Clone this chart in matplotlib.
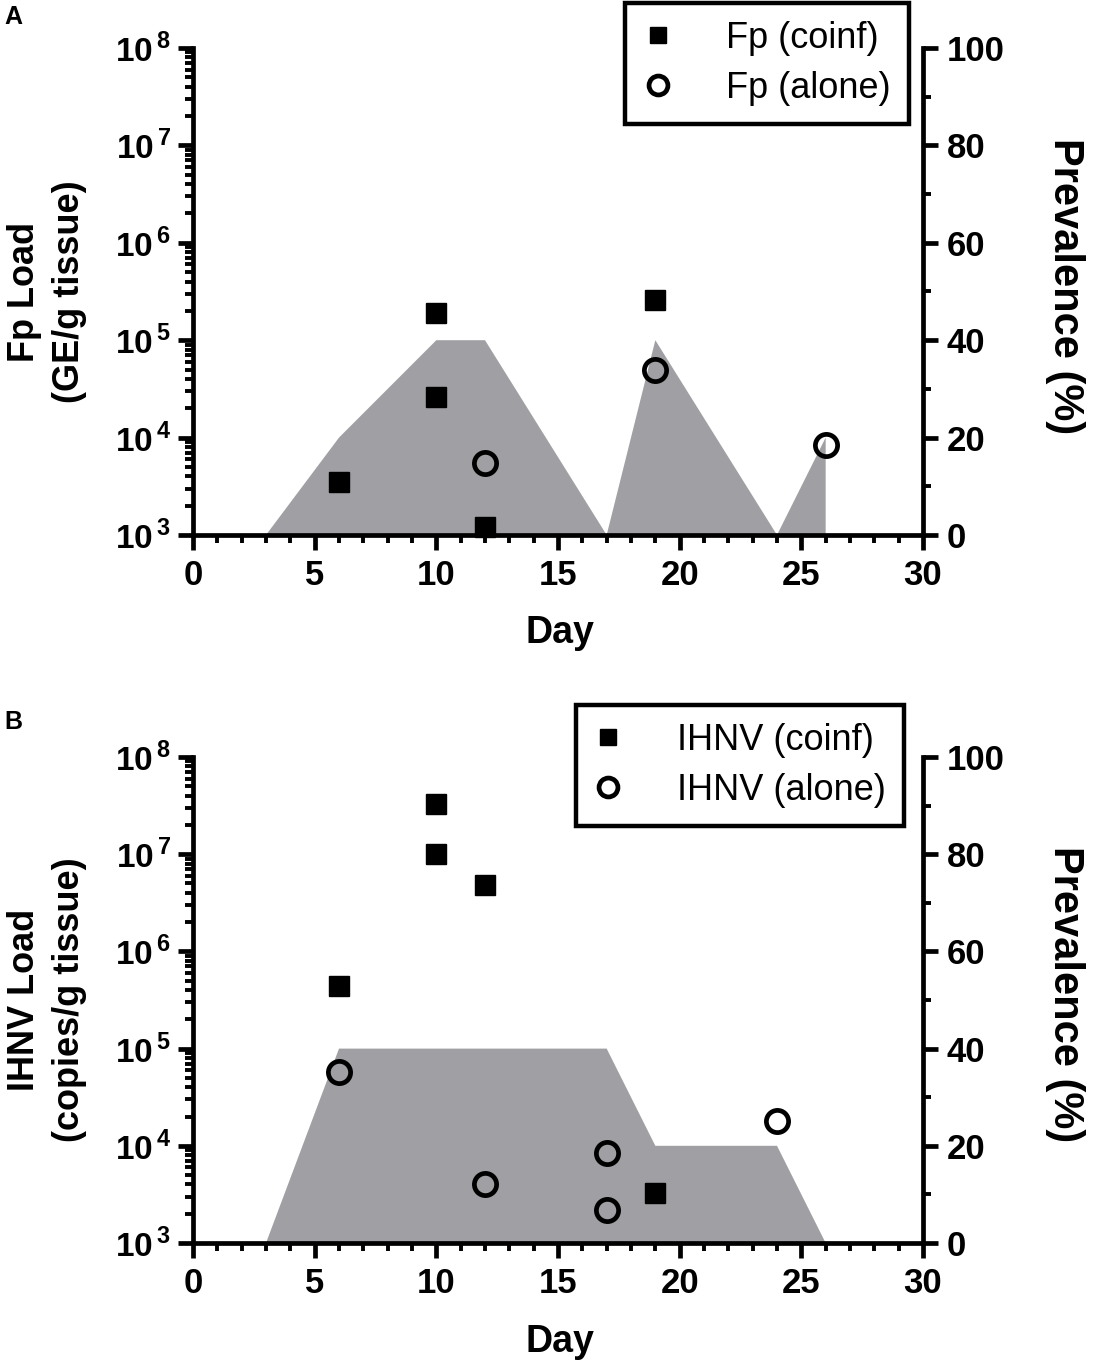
import matplotlib
matplotlib.use('Agg')
import matplotlib.pyplot as plt
from matplotlib.ticker import FixedLocator, FixedFormatter, LogLocator, NullFormatter, MultipleLocator

plt.rcParams['font.family'] = ['Liberation Sans', 'DejaVu Sans']
plt.rcParams['mathtext.fontset'] = 'custom'
plt.rcParams['mathtext.rm'] = 'Liberation Sans'
plt.rcParams['mathtext.bf'] = 'Liberation Sans:bold'

# panel A: Fp
fp_coinf_day = [6, 10, 10, 12, 19]
fp_coinf_load = [3.5e3, 1.9e5, 2.6e4, 1.2e3, 2.6e5]
fp_alone_day = [12, 19, 26]
fp_alone_load = [5.5e3, 5.0e4, 8.3e3]
fp_prev_day = [3, 6, 10, 12, 17, 19, 24, 26, 26]
fp_prev = [0, 20, 40, 40, 0, 40, 0, 20, 0]

# panel B: IHNV
ihnv_coinf_day = [6, 10, 10, 12, 19]
ihnv_coinf_load = [4.4e5, 3.3e7, 1.0e7, 4.8e6, 3.3e3]
ihnv_alone_day = [6, 12, 17, 17, 24]
ihnv_alone_load = [5.7e4, 4.0e3, 8.5e3, 2.2e3, 1.8e4]
ihnv_prev_day = [3, 6, 17, 19, 24, 26]
ihnv_prev = [0, 40, 40, 20, 20, 0]

exponents = [3, 4, 5, 6, 7, 8]
day_ticks = [0, 5, 10, 15, 20, 25, 30]
prev_ticks = [0, 20, 40, 60, 80, 100]

fill_color = '#a0a0a4'
lw = 3.4
W, H = 1096, 1369


def panel(rect, letter, letter_y, c_day, c_load, a_day, a_load, p_day, p_prev,
          ylabel, name, leg_anchor, day_y):
    ax = fig.add_axes(rect)
    ax2 = ax.twinx()
    ax.set_zorder(ax2.get_zorder() + 1)
    ax.patch.set_visible(False)

    ax2.fill(p_day, p_prev, color=fill_color, lw=0)
    ax2.set_ylim(0, 100)
    ax2.yaxis.set_major_locator(FixedLocator(prev_ticks))
    ax2.yaxis.set_minor_locator(MultipleLocator(10))

    ax.plot(c_day, c_load, 's', color='black', ms=14, mec='black', clip_on=False,
            label=f'{name} (coinf)')
    ax.plot(a_day, a_load, 'o', mfc='none', mec='black', mew=3.4, ms=16, clip_on=False,
            label=f'{name} (alone)')

    ax.set_yscale('log')
    ax.set_ylim(1e3, 1e8)
    ax.set_xlim(0, 30)
    ax.yaxis.set_major_locator(FixedLocator([10.0 ** e for e in exponents]))
    ax.yaxis.set_major_formatter(FixedFormatter(
        [r'$\mathbf{10}^{\,\mathbf{%d}}$' % e for e in exponents]))
    ax.yaxis.set_minor_locator(LogLocator(base=10, subs=range(2, 10), numticks=20))
    ax.yaxis.set_minor_formatter(NullFormatter())
    ax.xaxis.set_major_locator(FixedLocator(day_ticks))
    ax.xaxis.set_minor_locator(MultipleLocator(1))

    for a in (ax, ax2):
        a.spines['top'].set_visible(False)
        for s in ('left', 'right', 'bottom'):
            a.spines[s].set_linewidth(lw)
        a.tick_params(which='major', length=11, width=lw, labelsize=25, pad=6)
        a.tick_params(which='minor', length=6, width=2.8)
    ax.spines['right'].set_visible(False)
    ax2.spines['left'].set_visible(False)
    ax2.spines['bottom'].set_visible(False)
    for t in ax.get_xticklabels() + ax2.get_yticklabels():
        t.set_fontweight('bold')
    ax.tick_params(axis='y', which='major', labelsize=24, pad=5)

    # axis titles placed in figure pixels
    yc = rect[1] + rect[3] / 2
    fig.text(47 / W, yc, ylabel, rotation=90, ha='center', va='center', ma='center',
             fontsize=26, fontweight='bold', linespacing=1.35)
    fig.text(1065 / W, yc + 0.004, 'Prevalence (%)', rotation=270, ha='center', va='center',
             fontsize=30, fontweight='bold')
    fig.text(560 / W, 1 - day_y / H, 'Day', ha='center', va='center',
             fontsize=27, fontweight='bold')

    leg = ax.legend(loc='upper right', bbox_to_anchor=leg_anchor, bbox_transform=fig.transFigure,
                    fontsize=26, frameon=True, fancybox=False, edgecolor='black', framealpha=1,
                    handlelength=0.8, handletextpad=1.5, borderpad=0.5, labelspacing=0.4,
                    borderaxespad=0, markerscale=0.85)
    leg.get_frame().set_linewidth(3.2)
    fig.text(0.004, letter_y, letter, fontsize=18, fontweight='bold', va='top')
    return ax


fig = plt.figure(figsize=(W / 100, H / 100), dpi=100)
panel([193 / W, 1 - 535 / H, 730 / W, 487 / H], 'A', 0.996, fp_coinf_day, fp_coinf_load,
      fp_alone_day, fp_alone_load, fp_prev_day, fp_prev,
      'Fp Load\n(GE/g tissue)', 'Fp', (909 / W, 1 - 3 / H), 633)
panel([193 / W, 1 - 1243 / H, 730 / W, 486 / H], 'B', 1 - 710 / H, ihnv_coinf_day, ihnv_coinf_load,
      ihnv_alone_day, ihnv_alone_load, ihnv_prev_day, ihnv_prev,
      'IHNV Load\n(copies/g tissue)', 'IHNV', (904 / W, 1 - 705 / H), 1342)

plt.savefig('out.png', dpi=100)
plt.close()
